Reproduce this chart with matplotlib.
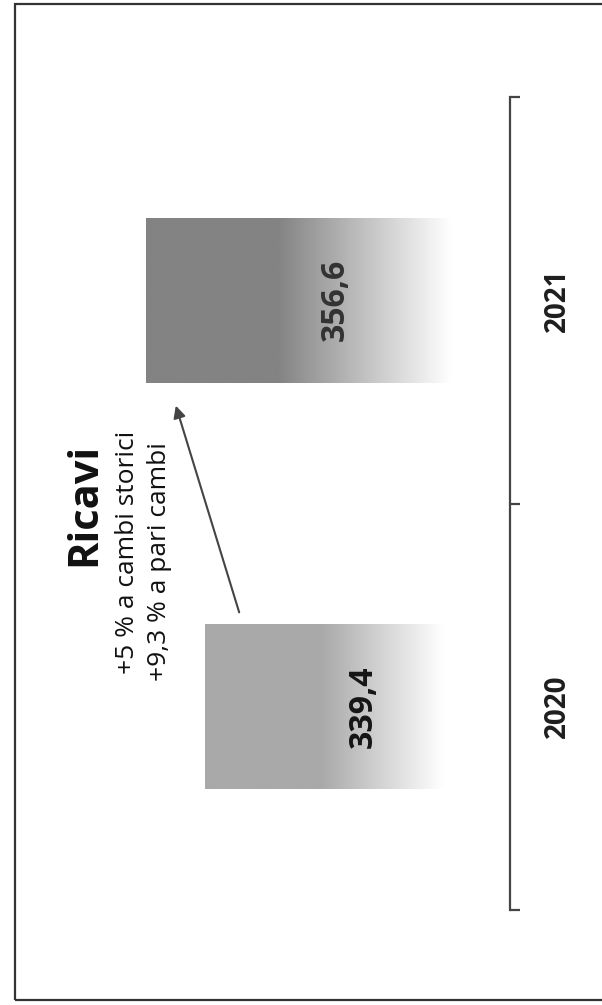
import numpy as np
import matplotlib
matplotlib.use("Agg")
import matplotlib.pyplot as plt
from matplotlib.colors import LinearSegmentedColormap
from matplotlib.patches import Rectangle

plt.rcParams['font.family'] = ['Open Sans', 'DejaVu Sans']

# data
years = ["2020", "2021"]
ricavi = [339.4, 356.6]
value_labels = ["339,4", "356,6"]
title = "Ricavi"
notes = ["+5 % a cambi storici", "+9,3 % a pari cambi"]

BASE = 250
bar_colors = ["#a9a9a9", "#838383"]
label_colors = ["#151515", "#333333"]
fade_start = [0.38, 0.36]
fade_end = [0.78, 0.84]

W, H = 602, 1005
fig = plt.figure(figsize=(W / 100, H / 100), dpi=100)
fig.patch.set_facecolor("white")

# chart is drawn rotated (horizontal bars growing leftwards from the axis)
ax = fig.add_axes([15 / W, (H - 910) / H, (510 - 15) / W, (910 - 97) / H])
ax.set_facecolor("none")

ypos = np.arange(len(years))
bar_h = 0.405
for i, (y, v) in enumerate(zip(ypos, ricavi)):
    rect = ax.barh(y, v - BASE, left=BASE, height=bar_h, color="none",
                   edgecolor="none")[0]
    t = np.linspace(0, 1, 256)
    s = np.clip((t - fade_start[i]) / (fade_end[i] - fade_start[i]), 0, 1)
    cmap = LinearSegmentedColormap.from_list("g%d" % i, [bar_colors[i], "white"])
    grad = s[np.newaxis, :]
    im = ax.imshow(grad, cmap=cmap, vmin=0, vmax=1, aspect="auto",
                   extent=(v, BASE, y - bar_h / 2, y + bar_h / 2),
                   interpolation="bicubic", zorder=2)
    im.set_clip_path(rect)

ax.set_xlim(395, BASE)
ax.set_ylim(-0.5, len(years) - 0.5)

for i, (y, v, lab) in enumerate(zip(ypos, ricavi, value_labels)):
    ax.text(v - (v - BASE) * 0.52, y, lab, rotation=90, ha="center",
            va="center", fontsize=23, fontweight="bold",
            color=label_colors[i], zorder=3)

for sp in ["top", "bottom", "left"]:
    ax.spines[sp].set_visible(False)
ax.spines["right"].set_linewidth(1.6)
ax.spines["right"].set_color("#444444")
ax.set_xticks([])
ax.yaxis.tick_right()
ax.set_yticks(np.arange(-0.5, len(years), 1.0))
ax.set_yticklabels([])
ax.tick_params(axis="y", which="major", length=7, width=1.6, color="#444444")
ax.set_yticks(ypos, minor=True)
ax.set_yticklabels(years, minor=True, rotation=90, va="center",
                   fontsize=20, fontweight="bold", color="#1e1e1e")
ax.tick_params(axis="y", which="minor", length=0, pad=24)

# annotation text and arrow
fig.text(85 / W, 1 - 504 / H, title, rotation=90, ha="center", va="center",
         fontsize=30, fontweight="bold", color="#111111")
fig.text(128 / W, 1 - 552 / H, notes[0], rotation=90, ha="center",
         va="center", fontsize=19, color="#111111")
fig.text(160 / W, 1 - 562 / H, notes[1], rotation=90, ha="center",
         va="center", fontsize=19, color="#111111")
ax.annotate("", xy=(175 / W, 1 - 403 / H), xycoords="figure fraction",
            xytext=(240 / W, 1 - 615 / H), textcoords="figure fraction",
            arrowprops=dict(arrowstyle="-|>", color="#444444", lw=1.5,
                            mutation_scale=18))

# frame around the slide
fig.add_artist(Rectangle((15 / W, 1 - 1000 / H), (W + 5 - 15) / W,
                         (1000 - 4) / H, transform=fig.transFigure,
                         fill=False, edgecolor="#333333", linewidth=1.6))

fig.savefig("out.png", dpi=100)
